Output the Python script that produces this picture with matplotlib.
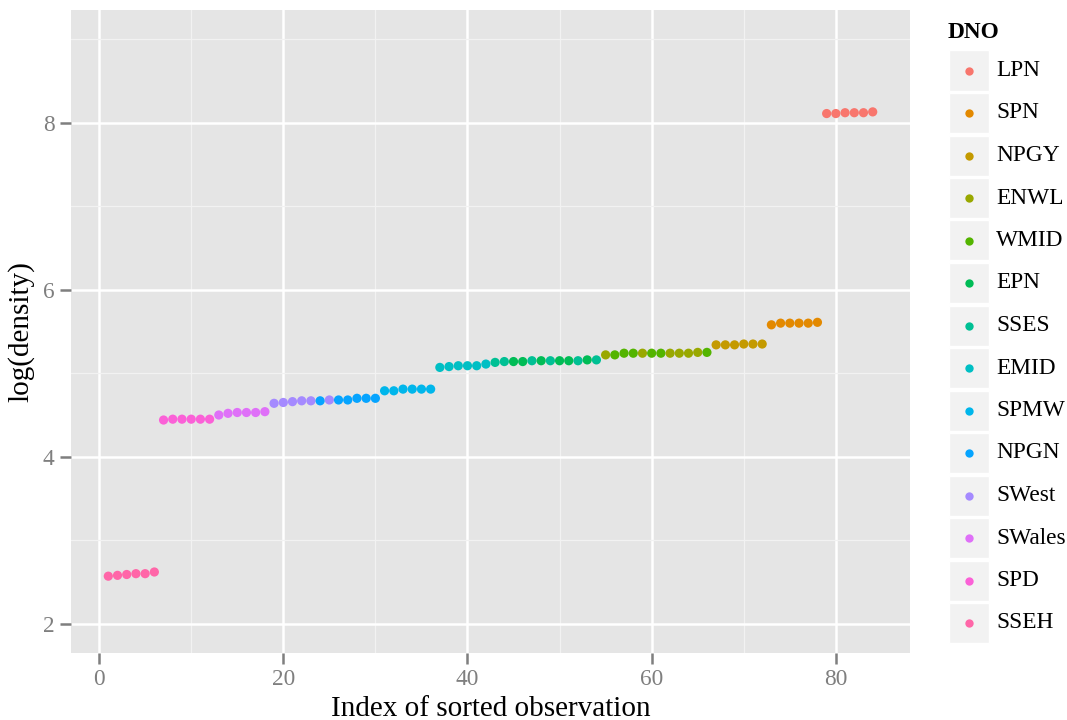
import matplotlib
matplotlib.use("Agg")
import matplotlib.pyplot as plt
from matplotlib.patches import Rectangle
from matplotlib.lines import Line2D

plt.rcParams['font.family'] = ['Liberation Serif', 'DejaVu Serif']

# legend order and ggplot hue colours
levels = ["LPN", "SPN", "NPGY", "ENWL", "WMID", "EPN", "SSES",
          "EMID", "SPMW", "NPGN", "SWest", "SWales", "SPD", "SSEH"]
colors = ["#F8766D", "#E38900", "#C49A00", "#99A800", "#53B400", "#00BC56",
          "#00C094", "#00BFC4", "#00B6EB", "#06A4FF", "#A58AFF", "#DF70F8",
          "#FB61D7", "#FF66A8"]

# sorted observations (index 1..84)
dno = (["SSEH"] * 6 + ["SPD"] * 6 + ["SWales"] * 6 +
       ["SWest", "SWest", "SWest", "SWest", "SWest", "NPGN",
        "SWest", "NPGN", "NPGN", "NPGN", "NPGN", "NPGN"] +
       ["SPMW"] * 6 + ["EMID"] * 6 +
       ["SSES", "SSES", "EPN", "EPN", "SSES", "EPN",
        "SSES", "EPN", "EPN", "SSES", "EPN", "SSES"] +
       ["ENWL", "WMID", "WMID", "WMID", "ENWL", "WMID",
        "WMID", "ENWL", "ENWL", "ENWL", "ENWL", "WMID"] +
       ["NPGY"] * 6 + ["SPN"] * 6 + ["LPN"] * 6)
log_density = [2.57, 2.58, 2.59, 2.60, 2.60, 2.62,
               4.44, 4.45, 4.45, 4.45, 4.45, 4.45,
               4.50, 4.52, 4.53, 4.53, 4.53, 4.54,
               4.64, 4.65, 4.66, 4.67, 4.67, 4.67,
               4.68, 4.68, 4.68, 4.70, 4.70, 4.70,
               4.79, 4.79, 4.81, 4.81, 4.81, 4.81,
               5.07, 5.08, 5.09, 5.09, 5.09, 5.11,
               5.13, 5.14, 5.14, 5.14, 5.15, 5.15,
               5.15, 5.15, 5.15, 5.15, 5.16, 5.16,
               5.22, 5.22, 5.24, 5.24, 5.24, 5.24,
               5.24, 5.24, 5.24, 5.24, 5.25, 5.25,
               5.34, 5.34, 5.34, 5.35, 5.35, 5.35,
               5.58, 5.60, 5.60, 5.60, 5.60, 5.61,
               8.11, 8.11, 8.12, 8.12, 8.12, 8.13]
index = list(range(1, len(log_density) + 1))

col_of = dict(zip(levels, colors))
point_colors = [col_of[d] for d in dno]

W, H = 1067, 720
fig = plt.figure(figsize=(W / 100, H / 100), dpi=100)
ax = fig.add_axes([71 / W, (H - 653) / H, (910 - 71) / W, (653 - 10) / H])
ax.set_facecolor("#E5E5E5")

ax.scatter(index, log_density, c=point_colors, s=44, linewidths=0, zorder=3)

ax.set_xlim(-3.05, 88.05)
ax.set_ylim(1.65, 9.35)
ax.set_xticks([0, 20, 40, 60, 80])
ax.set_yticks([2, 4, 6, 8])
ax.set_xticks([10, 30, 50, 70], minor=True)
ax.set_yticks([3, 5, 7, 9], minor=True)
ax.grid(which="major", color="white", linewidth=1.8, zorder=0)
ax.grid(which="minor", color="#F2F2F2", linewidth=0.9, zorder=0)
for s in ax.spines.values():
    s.set_visible(False)
ax.tick_params(which="major", colors="#7F7F7F", labelsize=16.8, length=7.8,
               width=1.8, labelcolor="#7F7F7F", pad=4)
ax.tick_params(which="minor", length=0)
ax.set_xlabel("Index of sorted observation", fontsize=21, labelpad=4)
ax.set_ylabel("log(density)", fontsize=21, labelpad=6)

# legend drawn in pixel space
fig.text(948 / W, 1 - 32 / H, "DNO", fontsize=16.8, fontweight="bold",
         ha="left", va="center")
for i, (lab, c) in enumerate(zip(levels, colors)):
    yc = 70.5 + i * 42.5
    fig.add_artist(Rectangle((949 / W, 1 - (yc + 20) / H), 40 / W, 40 / H,
                             transform=fig.transFigure, facecolor="#F2F2F2",
                             edgecolor="white", linewidth=1))
    fig.add_artist(Line2D([969 / W], [1 - yc / H], marker="o", markersize=6,
                          markerfacecolor=c, markeredgewidth=0,
                          transform=fig.transFigure))
    fig.text(996 / W, 1 - yc / H, lab, fontsize=16.8, ha="left", va="center")

fig.savefig("out.png", dpi=100)
